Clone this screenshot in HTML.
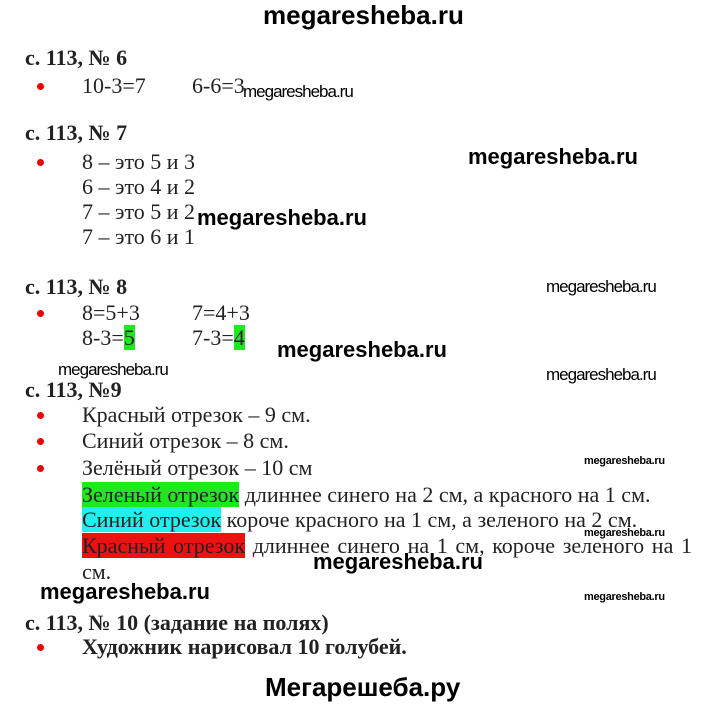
<!DOCTYPE html>
<html><head><meta charset="utf-8"><style>
body{margin:0;width:720px;height:706px;background:#fff;position:relative;overflow:hidden}
div{position:absolute;white-space:nowrap;line-height:24px}
.s{font-family:"Liberation Serif",serif;font-size:22px;color:#222}
.h{font-family:"Liberation Serif",serif;font-size:22px;font-weight:bold;color:#222}
.w{font-family:"Liberation Sans",sans-serif;font-weight:bold;font-size:22px;color:#000;letter-spacing:0px}
.sm{font-family:"Liberation Sans",sans-serif;font-size:17px;color:#000;letter-spacing:-1px}
.xs{font-family:"Liberation Sans",sans-serif;font-size:11px;font-weight:bold;color:#000;letter-spacing:-0.3px}
.b{width:7px;height:7px;border-radius:50%;background:#e00}
.g{background:#1ee81e}.c{background:#22eeee}.r{background:#ee1111}
</style></head><body>
<div class="w" style="left:263px;top:3px;font-size:26px">megaresheba.ru</div>

<div class="h" style="left:25px;top:46px">с. 113, № 6</div>
<div class="b" style="left:37px;top:83px"></div>
<div class="s" style="left:82px;top:74px">10-3=7</div>
<div class="s" style="left:192px;top:74px">6-6=3</div>
<div class="sm" style="left:243px;top:80px">megaresheba.ru</div>

<div class="h" style="left:25px;top:121px">с. 113, № 7</div>
<div class="b" style="left:37px;top:159px"></div>
<div class="s" style="left:82px;top:150px">8 – это 5 и 3</div>
<div class="s" style="left:82px;top:175px">6 – это 4 и 2</div>
<div class="s" style="left:82px;top:200px">7 – это 5 и 2</div>
<div class="s" style="left:82px;top:225px">7 – это 6 и 1</div>
<div class="w" style="left:468px;top:145px">megaresheba.ru</div>
<div class="w" style="left:197px;top:206px">megaresheba.ru</div>

<div class="h" style="left:25px;top:275px">с. 113, № 8</div>
<div class="sm" style="left:546px;top:275px">megaresheba.ru</div>
<div class="b" style="left:37px;top:310px"></div>
<div class="s" style="left:82px;top:301px">8=5+3</div>
<div class="s" style="left:192px;top:301px">7=4+3</div>
<div class="s" style="left:82px;top:326px">8-3=<span class="g">5</span></div>
<div class="s" style="left:192px;top:326px">7-3=<span class="g">4</span></div>
<div class="w" style="left:277px;top:338px">megaresheba.ru</div>
<div class="sm" style="left:58px;top:358px">megaresheba.ru</div>
<div class="sm" style="left:546px;top:363px">megaresheba.ru</div>

<div class="h" style="left:25px;top:378px">с. 113, №9</div>
<div class="b" style="left:37px;top:412px"></div>
<div class="s" style="left:82px;top:403px">Красный отрезок – 9 см.</div>
<div class="b" style="left:37px;top:438px"></div>
<div class="s" style="left:82px;top:429px">Синий отрезок – 8 см.</div>
<div class="b" style="left:37px;top:465px"></div>
<div class="s" style="left:82px;top:456px">Зелёный отрезок – 10 см</div>
<div class="xs" style="left:584px;top:449px">megaresheba.ru</div>
<div class="s" style="left:82px;top:483px"><span class="g">Зеленый отрезок</span> длиннее синего на 2 см, а красного на 1 см.</div>
<div class="s" style="left:82px;top:508px"><span class="c">Синий отрезок</span> короче красного на 1 см, а зеленого на 2 см.</div>
<div class="xs" style="left:584px;top:521px">megaresheba.ru</div>
<div class="s" style="left:82px;top:534px;width:610px;white-space:normal;text-align:justify;text-align-last:justify"><span class="r">Красный отрезок</span> длиннее синего на 1 см, короче зеленого на 1</div>
<div class="s" style="left:82px;top:560px">см.</div>
<div class="w" style="left:313px;top:550px">megaresheba.ru</div>
<div class="w" style="left:40px;top:580px">megaresheba.ru</div>
<div class="xs" style="left:584px;top:585px">megaresheba.ru</div>

<div class="h" style="left:25px;top:611px">с. 113, № 10 (задание на полях)</div>
<div class="b" style="left:37px;top:644px"></div>
<div class="h" style="left:82px;top:635px;font-size:22px">Художник нарисовал 10 голубей.</div>

<div class="w" style="left:265px;top:675px;font-size:26px">Мегарешеба.ру</div>
</body></html>
